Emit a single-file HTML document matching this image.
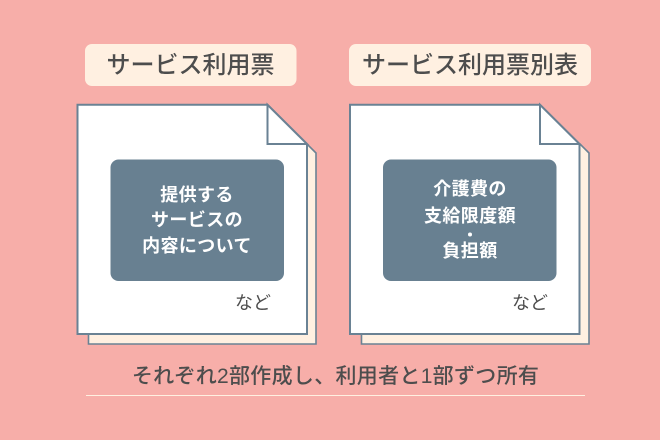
<!DOCTYPE html>
<html lang="ja">
<head>
<meta charset="utf-8">
<style>
html,body{margin:0;padding:0;width:660px;height:440px;overflow:hidden;background:#f7aea9}
svg{display:block}
text{font-family:"Liberation Sans","Noto Sans CJK JP",sans-serif;text-anchor:middle}
.t{font-size:24px;font-weight:500;fill:#4d4d4d}
.w{font-size:18px;font-weight:700;fill:#fff;letter-spacing:.4px}
.n{font-size:18px;font-weight:400;fill:#4d4d4d}
.b{font-size:21px;font-weight:500;fill:#4d4d4d;letter-spacing:.3px}
</style>
</head>
<body>
<svg width="660" height="440" viewBox="0 0 660 440" xmlns="http://www.w3.org/2000/svg">
<rect width="660" height="440" fill="#f7aea9"/>

<rect x="85" y="44" width="211.5" height="42" rx="7" fill="#fff0e1"/>
<rect x="349" y="44" width="242" height="42" rx="7" fill="#fff0e1"/>
<text class="t" x="190.5" y="73">サービス利用票</text>
<text class="t" x="470" y="73">サービス利用票別表</text>

<!-- left document -->
<polygon points="88.5,200 307,144 316,153 316,344 88.5,344" fill="#fff0e1" stroke="#6a8294" stroke-width="1.6"/>
<polygon points="77.5,104.8 267.5,104.8 307,144 307,334 77.5,334" fill="#fff" stroke="#6a8294" stroke-width="2"/>
<polygon points="267.5,104.8 307,144 267.5,144" fill="#fff" stroke="#6a8294" stroke-width="2" stroke-linejoin="miter"/>
<rect x="110.5" y="159.5" width="173.5" height="121.5" rx="8" fill="#688091"/>
<text class="w" x="197" y="201">提供する</text>
<text class="w" x="197" y="226">サービスの</text>
<text class="w" x="197" y="252">内容について</text>
<text class="n" x="253" y="309">など</text>

<!-- right document -->
<polygon points="361.5,200 580,144 589,153 589,344 361.5,344" fill="#fff0e1" stroke="#6a8294" stroke-width="1.6"/>
<polygon points="350,104.8 540,104.8 579.5,144 579.5,334 350,334" fill="#fff" stroke="#6a8294" stroke-width="2"/>
<polygon points="540,104.8 579.5,144 540,144" fill="#fff" stroke="#6a8294" stroke-width="2"/>
<rect x="383" y="159.5" width="173.5" height="121.5" rx="8" fill="#688091"/>
<text class="w" x="470" y="195">介護費の</text>
<text class="w" x="470" y="222">支給限度額</text>
<circle cx="470" cy="234.5" r="2" fill="#fff"/>
<text class="w" x="470" y="257">負担額</text>
<text class="n" x="530" y="309">など</text>

<text class="b" x="335.5" y="383">それぞれ2部作成し、利用者と1部ずつ所有</text>
<rect x="86" y="395" width="499" height="1" fill="#fff0e1"/>
</svg>
</body>
</html>
